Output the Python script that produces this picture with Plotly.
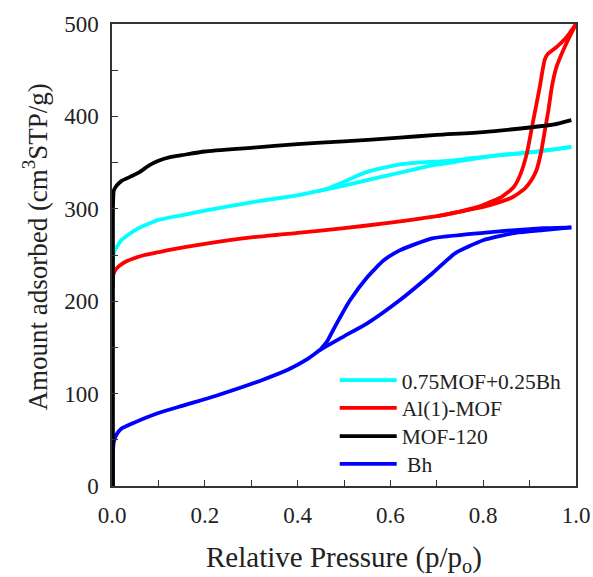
import plotly.graph_objects as go

# ---- data ----
mof120_x = [0.002, 0.002, 0.004, 0.01, 0.02, 0.045, 0.06, 0.08, 0.1, 0.125, 0.15, 0.2, 0.3, 0.4, 0.5, 0.62, 0.7, 0.8, 0.9, 0.95, 0.99]
mof120_y = [0, 300, 320, 325, 330, 336, 340, 347, 352, 356, 358, 362, 366, 370, 373, 377, 380, 383, 388, 391, 396]

mix_ads_x = [0.002, 0.002, 0.006, 0.02, 0.05, 0.08, 0.1, 0.15, 0.2, 0.3, 0.405, 0.45, 0.5, 0.55, 0.62, 0.69, 0.73, 0.78, 0.836, 0.9, 0.95, 0.99]
mix_ads_y = [225, 245, 255, 266, 277, 284, 288, 293, 298, 307, 315, 320, 325, 331, 339, 347, 350, 354, 358, 361, 364, 367]
mix_des_x = [0.99, 0.9, 0.836, 0.78, 0.73, 0.69, 0.62, 0.55, 0.52, 0.49, 0.465, 0.445]
mix_des_y = [367, 361, 358, 355, 352, 351, 348, 340, 334, 327, 322, 319]

al_ads_x = [0.002, 0.002, 0.005, 0.015, 0.03, 0.045, 0.07, 0.1, 0.118, 0.2, 0.3, 0.4, 0.5, 0.6, 0.66, 0.7, 0.75, 0.8, 0.84, 0.865, 0.89, 0.905, 0.915, 0.925, 0.933, 0.94, 0.948, 0.957, 0.966, 0.983, 1.0]
al_ads_y = [215, 225, 232, 238, 243, 246, 250, 253, 255, 262, 269, 274, 279, 285, 289, 292, 297, 302, 308, 313, 322, 332, 342, 362, 385, 405, 432, 452, 464, 483, 500]
al_des_x = [1.0, 0.98, 0.958, 0.94, 0.933, 0.928, 0.922, 0.908, 0.894, 0.88, 0.865, 0.84, 0.8, 0.75, 0.7]
al_des_y = [500, 486, 475, 468, 462, 450, 432, 396, 360, 337, 323, 313, 304, 297, 292]

bh_ads_x = [0.002, 0.002, 0.004, 0.01, 0.02, 0.045, 0.1, 0.153, 0.226, 0.32, 0.38, 0.42, 0.448, 0.5, 0.55, 0.62, 0.69, 0.74, 0.8, 0.87, 0.93, 0.99]
bh_ads_y = [0, 35, 48, 56, 62, 68, 79, 87, 98, 114, 126, 137, 147, 162, 176, 201, 230, 252, 266, 274, 277, 280]
bh_des_x = [0.99, 0.93, 0.87, 0.8, 0.69, 0.62, 0.585, 0.55, 0.513, 0.48, 0.463, 0.448]
bh_des_y = [280, 279, 277, 274, 268, 255, 244, 226, 201, 172, 156, 147]

names = ["0.75MOF+0.25Bh", "Al(1)-MOF", "MOF-120", " Bh"]
colors = ["#00ffff", "#ff0000", "#000000", "#0000ff"]

x_ticks = [0, 0.2, 0.4, 0.6, 0.8, 1.0]
x_ticktext = ["0.0", "0.2", "0.4", "0.6", "0.8", "1.0"]

font = "Liberation Serif"
tc = "#222222"

fig = go.Figure()

def add(xs, ys, name, color, show, legend):
    fig.add_trace(go.Scatter(x=xs, y=ys, mode="lines", name=name,
                             line=dict(color=color, width=3.8, shape="spline", smoothing=0.5),
                             showlegend=show, legendgroup=name, legend=legend))

add(bh_ads_x, bh_ads_y, names[3], colors[3], True, "legend4")
add(bh_des_x, bh_des_y, names[3], colors[3], False, "legend4")
add(mix_ads_x, mix_ads_y, names[0], colors[0], True, "legend")
add(mix_des_x, mix_des_y, names[0], colors[0], False, "legend")
add(al_ads_x, al_ads_y, names[1], colors[1], True, "legend2")
add(al_des_x, al_des_y, names[1], colors[1], False, "legend2")
add(mof120_x, mof120_y, names[2], colors[2], True, "legend3")

def leg(y):
    return dict(x=0.48, y=y, xanchor="left", yanchor="middle",
                font=dict(family=font, size=21.5, color=tc), itemwidth=57,
                bgcolor="rgba(255,255,255,0)", borderwidth=0)

axis_common = dict(showline=True, linecolor="#333333", linewidth=1.5, mirror=True,
                   ticks="inside", ticklen=6, tickcolor="#333333", showgrid=False,
                   zeroline=False, automargin=False,
                   tickfont=dict(family=font, size=23, color=tc))

fig.update_layout(
    width=593, height=577,
    margin=dict(l=112, r=17, t=24, b=91),
    paper_bgcolor="white", plot_bgcolor="white",
    font=dict(family=font, color=tc),
    legend=leg(0.229), legend2=leg(0.169), legend3=leg(0.108), legend4=leg(0.048),
    xaxis=dict(range=[0, 1], tickvals=x_ticks, ticktext=x_ticktext, ticklabelstandoff=8,
               minor=dict(dtick=0.1, ticks="inside", ticklen=6, tickcolor="#333333"),
               **axis_common),
    yaxis=dict(range=[0, 500], dtick=100, ticklabelstandoff=7,
               minor=dict(dtick=50, ticks="inside", ticklen=6, tickcolor="#333333"),
               **axis_common),
    annotations=[
        dict(text="Relative Pressure (p/p<sub>o</sub>)", xref="paper", yref="paper",
             x=0.5, y=-0.157, xanchor="center", yanchor="middle", showarrow=False,
             font=dict(family=font, size=29, color=tc)),
        dict(text="Amount adsorbed (cm<sup>3</sup>STP/g)", xref="paper", yref="paper",
             x=-0.165, y=0.517, xanchor="center", yanchor="middle", showarrow=False,
             textangle=-90, font=dict(family=font, size=27, color=tc)),
    ],
)

fig.write_html("out.html", config={"displayModeBar": False},
               post_script="document.body.style.margin='0';document.body.style.overflow='hidden';")
